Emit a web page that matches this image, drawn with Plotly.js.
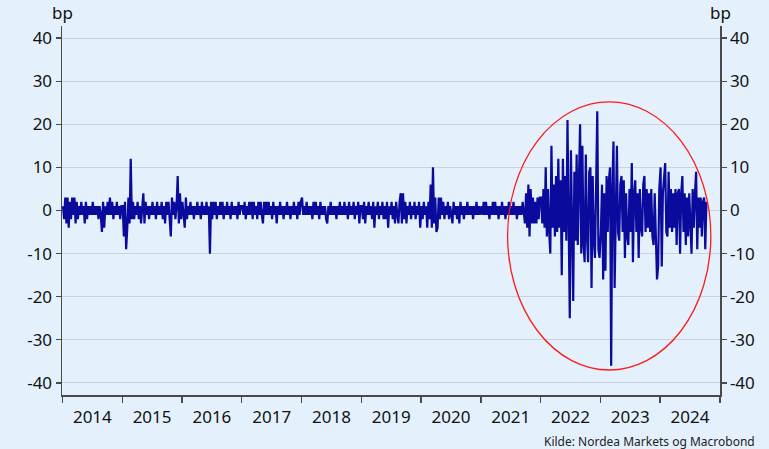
<!DOCTYPE html>
<html>
<head>
<meta charset="utf-8">
<script src="https://cdn.plot.ly/plotly-3.0.1.min.js"></script>
<style>html,body{margin:0;padding:0;background:#e4f1fd;}#chart{width:769px;height:449px;}</style>
</head>
<body>
<div id="chart"></div>
<script>
// Weekly changes in bp (one array per year)
const years = [2014,2015,2016,2017,2018,2019,2020,2021,2022,2023,2024];
const v2014 = [1,-2,3,-3,3,-4,2,-2,3,-1, 3,-3,2,-2,1,-1,2,-1,1,-3, 2,-2,1,-1,1,-1,2,-1,1,-1, 1,-2,1,-1,-5,2,-4,1,-1,2, -1,3,-1,2,-2,1,-1,2,-1,1, -2,1];
const v2015 = [1,-6,2,-9,-4,3,-3,12,-2,2, -2,1,-1,2,-2,1,-3,2,4,-3, 2,-1,1,-2,1,-1,2,-1,1,-2, 2,-1,1,-1,2,-2,1,-3,2,-1, 2,-2,-6,3,-1,2,-2,1,8,-3, 4,-2];
const v2016 = [2,-1,-4,3,-2,1,-1,2,-1,1, -2,1,-1,2,-1,1,-2,2,-1,1, -1,2,-1,1,-10,2,-2,2,-1,2, -2,1,-1,2,-1,2,-2,1,-1,2, -1,1,-2,2,-1,1,-1,1,-2,2, -1,1];
const v2017 = [1,-1,2,-2,1,-1,2,-1,2,-2, 2,-1,1,-2,2,-1,2,-1,-3,2, -1,2,-1,2,-1,1,-2,2,-1,1, -3,1,-1,2,-1,1,-2,1,-1,2, -1,1,-2,1,-1,2,-1,1,-2,2, -1,2];
const v2018 = [3,-1,1,-1,2,-1,1,-1,1,-2, 2,-1,2,-1,1,-2,2,-1,1,-1, 1,-2,-3,1,-1,2,-1,1,-1,1, -2,1,-1,2,-1,1,-1,2,-1,1, -2,2,-1,1,-1,2,-2,1,-1,2, -3,1];
const v2019 = [1,-2,2,-3,1,-1,2,-1,1,-2, 2,-4,1,-1,2,-2,1,-1,2,-2, 1,-2,2,-4,1,-1,2,-2,1,-3, 2,-1,-3,2,4,-3,4,-2,2,-3, 1,-1,2,-2,1,-1,2,-2,1,-1, 2,-4];
const v2020 = [1,-2,2,-1,1,-4,2,-2,6,-4, 10,-3,3,-5,-4,3,-2,3,-1,2, -2,1,-1,2,-2,1,-1,-3,2,-1, 1,-2,1,-3,2,-1,1,-2,1,-1, 2,-1,1,-1,1,-2,1,-1,2,-1, 1,-1];
const v2021 = [1,-1,2,-1,2,-1,1,-2,1,-1, 2,-1,2,-1,1,-2,1,-1,2,-1, 1,-2,1,-1,2,-1,1,-1,2,-1, 1,-2,1,-1,1,-1,2,-1,-3,4, -4,6,-6,5,-3,3,-3,2,-3,3, -2,3];
const v2022 = [3,-3,5,-4,10,-6,5,-5,-10,15, -4,6,-6,8,-5,12,-4,7,-15,12, -5,8,-7,21,-6,-25,14,-11,-21,9, -7,13,-8,7,20,-10,15,-8,-12,13, -6,-12,9,10,-18,8,-7,-11,9,23, -9,-11];
const v2023 = [-5,6,-16,4,-14,8,-5,7,10,-36, 5,16,-18,6,15,-5,-7,6,8,-5, 7,-11,4,-6,-8,5,-5,11,-12,4, 7,-5,4,-11,5,-4,-6,6,8,-5, 5,-4,4,-5,5,-6,-8,4,-5,-16, -13,5];
const v2024 = [10,-13,4,9,11,-5,-6,9,-4,5, -5,4,-4,5,-8,4,5,-10,4,8, -5,4,-8,3,-6,4,-3,-10,5,-4, 4,9,-9,3,-4,3,-6,2,3,-9, 2];
const yearValues = [v2014,v2015,v2016,v2017,v2018,v2019,v2020,v2021,v2022,v2023,v2024];
const yTicks = [-40,-30,-20,-10,0,10,20,30,40];
const yTickText = ['-40','-30','-20','-10','0','10','20','30','40'];
const sourceText = 'Kilde: Nordea Markets og Macrobond';
const unitLabel = 'bp';

// weekly observation dates within each year
const xs = [], ys = [];
years.forEach((yr, k) => {
  yearValues[k].forEach((v, i) => {
    const d = new Date(Date.UTC(yr, 0, 1) + (i * 7 + 3) * 86400000);
    xs.push(d.toISOString().slice(0, 10));
    ys.push(v);
  });
});

const axisCol = '#4a4a4a';
const yr = [-42.8, 42.8];
const traces = [
  {x: xs, y: ys, type: 'scatter', mode: 'lines', line: {color: '#0a0a9c', width: 2.2}, hoverinfo: 'skip'},
  {x: [xs[0]], y: [null], type: 'scatter', mode: 'lines', yaxis: 'y2', hoverinfo: 'skip', showlegend: false}
];
const yBase = {
  range: yr, tickvals: yTicks, ticktext: yTickText, ticks: 'outside', ticklen: 5, tickwidth: 1.3, tickcolor: axisCol,
  showline: true, linecolor: axisCol, linewidth: 1.5, zeroline: false, fixedrange: true,
  tickfont: {size: 17, color: '#111'}
};
const layout = {
  width: 769, height: 449,
  paper_bgcolor: '#e4f1fd', plot_bgcolor: '#e4f1fd',
  margin: {l: 62, r: 49, t: 26, b: 54},
  font: {family: '"Noto Sans", "Open Sans", sans-serif', size: 17, color: '#111'},
  showlegend: false,
  xaxis: {
    type: 'date', range: ['2013-12-29', '2025-01-01'], tick0: '2014-01-01', dtick: 'M12',
    ticklabelmode: 'period', tickformat: '%Y', ticks: 'outside', ticklen: 6, tickwidth: 1.3,
    tickcolor: axisCol, showline: true, linecolor: axisCol, linewidth: 1.5, showgrid: false,
    zeroline: false, tickfont: {size: 17, color: '#111'}
  },
  yaxis: Object.assign({}, yBase, {showgrid: true, gridcolor: '#c8d3dd', gridwidth: 1}),
  yaxis2: Object.assign({}, yBase, {overlaying: 'y', side: 'right', showgrid: false}),
  shapes: [{
    type: 'circle', xref: 'x', yref: 'y', x0: '2021-06-13', x1: '2024-11-06', y0: -37, y1: 25.2,
    line: {color: '#ff1a1a', width: 1.3}, layer: 'above'
  }],
  annotations: [
    {xref: 'paper', yref: 'paper', x: 0, y: 1, xanchor: 'center', yanchor: 'bottom', text: unitLabel, showarrow: false, font: {size: 17, color: '#111'}},
    {xref: 'paper', yref: 'paper', x: 1, y: 1, xanchor: 'center', yanchor: 'bottom', text: unitLabel, showarrow: false, font: {size: 17, color: '#111'}},
    {xref: 'paper', yref: 'paper', x: 1.0562, y: -0.1247, xanchor: 'right', yanchor: 'middle', text: sourceText, showarrow: false, font: {size: 12, color: '#222'}}
  ]
};
Plotly.newPlot('chart', traces, layout, {staticPlot: true, displayModeBar: false});
</script>
</body>
</html>
